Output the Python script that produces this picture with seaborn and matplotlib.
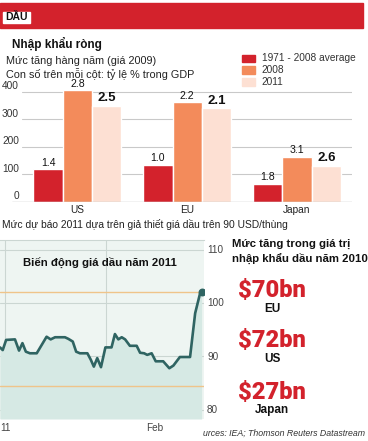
import matplotlib
matplotlib.use("Agg")
import matplotlib.pyplot as plt
import seaborn as sns
import pandas as pd
import numpy as np

# ---------------- data ----------------
groups = ["US", "EU", "Japan"]
series = ["1971 - 2008 average", "2008", "2011"]
avg_7108 = [118, 134, 66]
val_2008 = [405, 362, 164]
val_2011 = [348, 340, 131]
gdp_avg = ["1.4", "1.0", "1.8"]
gdp_2008 = ["2.8", "2.2", "3.1"]
gdp_2011 = ["2.5", "2.1", "2.6"]
bar_ticks = [0, 100, 200, 300, 400]

oil_day = [0, 0.8, 1.8, 4.4, 5.6, 6.6, 7.6, 8.8, 10.8, 12.3, 13.7, 14.9, 16.2,
           19.1, 20.1, 21.4, 22.4, 23.5, 25.7, 26.7, 27.6, 28.6, 29.7, 31.0,
           32.8, 33.8, 34.8, 35.8, 36.8, 38.2, 40.2, 41.2, 42.4, 43.3, 44.6,
           45.8, 48.0, 49.8, 51.0, 52.9, 55.9, 57.4, 58.8, 59.3]
oil_price = [91.7, 91.2, 93.1, 93.2, 91.1, 92.5, 90.9, 90.6, 90.6, 92.2, 93.7,
             93.2, 93.6, 93.6, 93.3, 92.8, 90.9, 90.6, 90.6, 89.4, 88.1, 89.7,
             88.0, 91.7, 91.7, 94.2, 93.2, 93.6, 93.2, 92.0, 92.0, 90.7, 90.6,
             90.3, 90.6, 89.1, 89.1, 87.8, 88.3, 89.9, 89.9, 98.1, 101.7, 102.1]
oil_ticks = [80, 90, 100, 110]
oil_refs = [102.0, 84.4]

imports_val = ["$70bn", "$72bn", "$27bn"]
imports_reg = ["EU", "US", "Japan"]

# ---------------- style ----------------
sns.set_theme(style="white")
plt.rcParams["font.family"] = ["Liberation Sans", "DejaVu Sans"]

W, H = 368, 441
fig = plt.figure(figsize=(W / 100, H / 100), dpi=100)
fig.patch.set_facecolor("white")


def fx(x):
    return x / W


def fy(y):
    return 1 - y / H


RED = "#d3222c"
ORANGE = "#f38b5b"
LIGHT = "#fde0d3"
palette = [RED, ORANGE, LIGHT]

# ---------------- header ----------------
fig.patches.append(plt.Rectangle((0, fy(27.5)), fx(362.5), (27.5 - 2.7) / H,
                                 transform=fig.transFigure, color=RED, zorder=0))
fig.patches.append(plt.Rectangle((fx(3.2), fy(23)), fx(27), 11.3 / H,
                                 transform=fig.transFigure, color="white", zorder=1))
fig.text(fx(5), fy(17.5), "DẦU", fontsize=7.5, fontweight="bold", va="center",
         ha="left", color="#111111", zorder=2)

fig.text(fx(12), fy(43.5), "Nhập khẩu ròng", fontsize=8.5, fontweight="bold",
         va="center", ha="left", color="#111111")
fig.text(fx(6), fy(61.5), "Mức tăng hàng năm (giá 2009)", fontsize=7.8,
         va="center", ha="left", color="#222222")
fig.text(fx(6), fy(73.5), "Con số trên mỗi cột: tỷ lệ % trong GDP", fontsize=7.8,
         va="center", ha="left", color="#222222")

# legend (manual)
for i, (lab, col) in enumerate(zip(series, palette)):
    yc = 58 + 12 * i
    fig.patches.append(plt.Rectangle((fx(242), fy(yc + 3.5)), fx(13), 7 / H,
                                     transform=fig.transFigure, color=col))
    fig.text(fx(261.5), fy(yc), lab, fontsize=7.3, va="center", ha="left",
             color="#333333")

# ---------------- bar chart ----------------
df = pd.DataFrame({
    "region": groups * 3,
    "series": [series[0]] * 3 + [series[1]] * 3 + [series[2]] * 3,
    "value": avg_7108 + val_2008 + val_2011,
})

px_per_unit = (202 - 91.7) / 400.0
ytop = 440
ax_top_px = 202 - ytop * px_per_unit
axb = fig.add_axes([fx(12), fy(202), fx(340), (202 - ax_top_px) / H])
sns.barplot(data=df, x="region", y="value", hue="series", order=groups,
            hue_order=series, palette=palette, saturation=1, width=0.8,
            ax=axb, legend=False, zorder=3)
axb.set_xlim(-0.595, 2.5)
axb.set_ylim(0, ytop)
for s in axb.spines.values():
    s.set_visible(False)
axb.set_xlabel("")
axb.set_ylabel("")
axb.set_yticks([])
axb.tick_params(axis="x", length=0, pad=2.5, labelsize=7.3, colors="#222222")
axb.set_facecolor("none")
gx0 = (22 - 12) / 340
for t in bar_ticks[1:]:
    axb.axhline(t, xmin=gx0, xmax=1, color="#c9c9c9", lw=0.8, zorder=1)
axb.axhline(0, xmin=0, xmax=1, color="#9a9a9a", lw=0.9, zorder=4)
for t in bar_ticks:
    fig.text(fx(19), fy(202 - t * px_per_unit - 5.5), str(t), fontsize=7.3,
             ha="right", va="center", color="#333333")

labels_all = [gdp_avg, gdp_2008, gdp_2011]
for si, cont in enumerate(axb.containers):
    for bi, bar in enumerate(cont):
        xc = bar.get_x() + bar.get_width() / 2
        h = bar.get_height()
        bold = si == 2
        axb.annotate(labels_all[si][bi], (xc, h), xytext=(0, 1.2),
                     textcoords="offset points", ha="center", va="bottom",
                     fontsize=9.5 if bold else 7.6,
                     fontweight="bold" if bold else "normal",
                     color="#111111", annotation_clip=False)

fig.text(fx(2), fy(224), "Mức dự báo 2011 dựa trên giả thiết giá dầu trên 90 USD/thùng",
         fontsize=7.4, ha="left", va="center", color="#222222")

# ---------------- oil line chart ----------------
ymin, ymax = 78.3, 111.8
axl = fig.add_axes([0, fy(419), fx(204), (419 - 240) / H])
axl.set_facecolor("#eef5f2")
axl.set_xlim(0, 60)
axl.set_ylim(ymin, ymax)
for t in oil_ticks:
    axl.axhline(t, color="#cbd6d2", lw=0.8, zorder=1)
for v in [1.5, 31.2]:
    axl.axvline(v, color="#cbd6d2", lw=0.8, zorder=1)
oil_df = pd.DataFrame({"day": oil_day, "price": oil_price})
axl.fill_between(oil_df["day"], oil_df["price"], ymin, color="#d6e9e4", zorder=2, lw=0)
for r in oil_refs:
    axl.axhline(r, color="#efc48a", lw=1.0, zorder=3)
sns.lineplot(data=oil_df, x="day", y="price", color="#2f6462", lw=1.9, ax=axl,
             zorder=4)
axl.scatter([oil_day[-1]], [oil_price[-1]], s=22, color="#2f6462", zorder=5)
axl.set_xticks([])
axl.set_yticks([])
axl.set_xlabel("")
axl.set_ylabel("")
for k, s in axl.spines.items():
    s.set_visible(k == "top")
    s.set_color("#cbd6d2")
    s.set_linewidth(0.8)

y_px_per = (410 - 303) / 20.0
for t in oil_ticks:
    fig.text(fx(207), fy(410 - (t - 80) * y_px_per), str(t), fontsize=7.2,
             ha="left", va="center", color="#444444")
fig.text(fx(0), fy(428), "11", fontsize=7.2, ha="left", va="center", color="#444444")
fig.text(fx(155), fy(428), "Feb", fontsize=7.2, ha="center", va="center",
         color="#444444")
fig.text(fx(100), fy(262.5), "Biến động giá dầu năm 2011", fontsize=8.2,
         fontweight="bold", ha="center", va="center", color="#111111")

# ---------------- right panel ----------------
fig.text(fx(232), fy(243.5), "Mức tăng trong giá trị", fontsize=8.2,
         fontweight="bold", ha="left", va="center", color="#111111")
fig.text(fx(232), fy(258.5), "nhập khẩu dầu năm 2010", fontsize=8.2,
         fontweight="bold", ha="left", va="center", color="#111111")
for i, (v, r) in enumerate(zip(imports_val, imports_reg)):
    y0 = 290 + 51 * i
    fig.text(fx(272), fy(y0), v, fontsize=17, fontweight="black",
             family=["Roboto", "DejaVu Sans"], ha="center", va="center",
             color=RED)
    fig.text(fx(272), fy(y0 + 18.5), r, fontsize=8.5, fontweight="bold",
             ha="center", va="center", color="#111111")

fig.text(fx(365), fy(433), "urces: IEA; Thomson Reuters Datastream", fontsize=6.3,
         style="italic", ha="right", va="center", color="#333333")

fig.savefig("out.png", dpi=100)
